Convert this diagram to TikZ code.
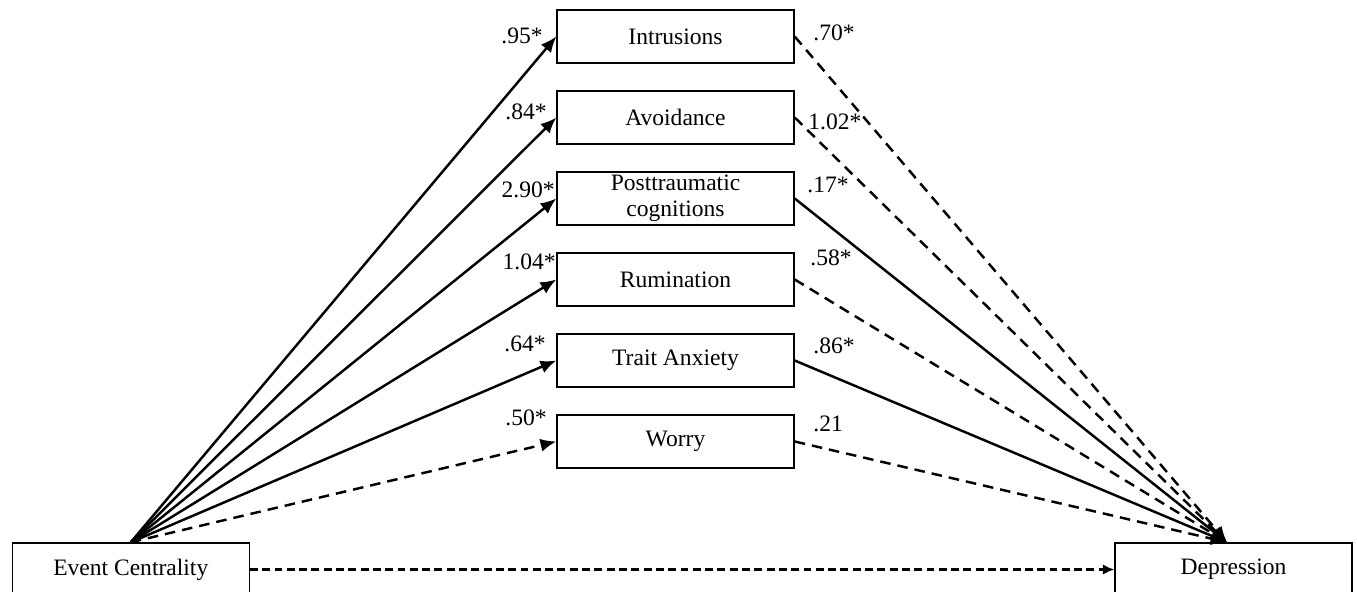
\documentclass[tikz,border=0pt]{standalone}
\usepackage{fontspec}
\setmainfont{Liberation Serif}
\usetikzlibrary{arrows.meta, positioning}

\begin{document}
\begin{tikzpicture}[
    var/.style={draw, line width=0.8pt, minimum width=4.74cm, minimum height=1.06cm, inner sep=1pt, align=center, font=\fontsize{13.4}{14.6}\selectfont},
    coef/.style={inner sep=0pt, font=\fontsize{13.4}{14.6}\selectfont},
    sig/.style={-{Latex[length=9pt,width=7.5pt]}, line width=1.4pt},
    nonsig/.style={sig, dash pattern=on 6pt off 4pt}
]
                \useasboundingbox (0,0) rectangle (27.14,11.84);

                % Predictor and outcome
                \node[var] (ec) at (2.615,0.45) {Event Centrality};
                \node[var] (dep) at (24.67,0.45) {Depression};
                \coordinate (depin) at ([xshift=-0.13cm]dep.north);

                % Mediators
                \node[var] (intr) at (13.51,11.11) {Intrusions};
                \node[var] (avoid) at (13.51,9.49) {Avoidance};
                \node[var] (ptc) at (13.51,7.87) {Posttraumatic\\cognitions};
                \node[var] (rum) at (13.51,6.25) {Rumination};
                \node[var] (trait) at (13.51,4.63) {Trait Anxiety};
                \node[var] (worry) at (13.51,3.01) {Worry};

                % a paths
                \draw[sig] (ec.north) -- (intr.west);
                \draw[sig] (ec.north) -- (avoid.west);
                \draw[sig] (ec.north) -- (ptc.west);
                \draw[sig] (ec.north) -- (rum.west);
                \draw[sig] (ec.north) -- (trait.west);
                \draw[nonsig] (ec.north) -- (worry.west);
                \node[coef,anchor=east] (a1) at (10.86,11.13) {.95*};
                \node[coef,anchor=east] (a2) at (10.94,9.60) {.84*};
                \node[coef,anchor=east] (a3) at (11.10,8.05) {2.90*};
                \node[coef,anchor=east] (a4) at (11.12,6.60) {1.04*};
                \node[coef,anchor=east] (a5) at (10.92,4.96) {.64*};
                \node[coef,anchor=east] (a6) at (10.94,3.48) {.50*};

                % b paths
                \draw[nonsig] (intr.east) -- (depin);
                \draw[nonsig] (avoid.east) -- (depin);
                \draw[sig] (ptc.east) -- (depin);
                \draw[nonsig] (rum.east) -- (depin);
                \draw[sig] (trait.east) -- (depin);
                \draw[nonsig] (worry.east) -- (depin);
                \node[coef,anchor=west] (b1) at (16.26,11.18) {.70*};
                \node[coef,anchor=west] (b2) at (16.16,9.40) {1.02*};
                \node[coef,anchor=west] (b3) at (16.14,8.14) {.17*};
                \node[coef,anchor=west] (b4) at (16.20,6.68) {.58*};
                \node[coef,anchor=west] (b5) at (16.26,4.92) {.86*};
                \node[coef,anchor=west] (b6) at (16.26,3.36) {.21};

                % direct path
                \draw[-{Latex[length=6.5pt,width=6pt]}, line width=1.4pt, dash pattern=on 4.5pt off 2.5pt] (ec.east) -- (dep.west);
\end{tikzpicture}
\end{document}
